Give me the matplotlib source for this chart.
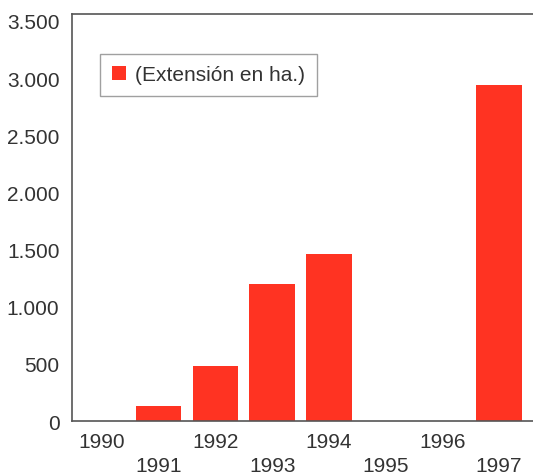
import matplotlib
matplotlib.use("Agg")
import matplotlib.pyplot as plt
from matplotlib.ticker import FuncFormatter

# datos
years = ["1990", "1991", "1992", "1993", "1994", "1995", "1996", "1997"]
extension = [0, 130, 480, 1195, 1465, 0, 0, 2935]
series_label = "(Extensión en ha.)"

plt.rcParams["font.family"] = ["Liberation Sans", "DejaVu Sans"]
text_color = "#333333"
bar_color = "#ff3322"
fsize = 15

fig = plt.figure(figsize=(5.33, 4.77), dpi=100)
ax = fig.add_axes([0.135, 0.1153, 0.865, 0.8533])

x = list(range(len(years)))
ax.bar(x, extension, width=0.8, color=bar_color, label=series_label)

ax.set_xlim(-0.53, 7.6)
ax.set_ylim(0, 3560)
ax.set_yticks(range(0, 3501, 500))
ax.yaxis.set_major_formatter(FuncFormatter(lambda v, p: f"{int(v):,}".replace(",", ".")))

ax.set_xticks(x)
ax.set_xticklabels(years)
ax.tick_params(axis="both", length=0, labelsize=fsize, labelcolor=text_color)
ax.tick_params(axis="y", pad=9)
# años impares en una segunda fila
for i, tick in enumerate(ax.xaxis.get_major_ticks()):
    tick.set_pad(8 if i % 2 == 0 else 25)

for side in ["left", "bottom", "top"]:
    ax.spines[side].set_color("#555555")
    ax.spines[side].set_linewidth(1.2)
ax.spines["right"].set_visible(False)

leg = ax.legend(loc="upper left", bbox_to_anchor=(0.061, 0.902), borderaxespad=0,
                fancybox=False, edgecolor="#888888", fontsize=fsize,
                handlelength=0.7, handleheight=0.7, handletextpad=0.45,
                borderpad=0.55)
for t in leg.get_texts():
    t.set_color(text_color)

fig.savefig("out.png", dpi=100)
